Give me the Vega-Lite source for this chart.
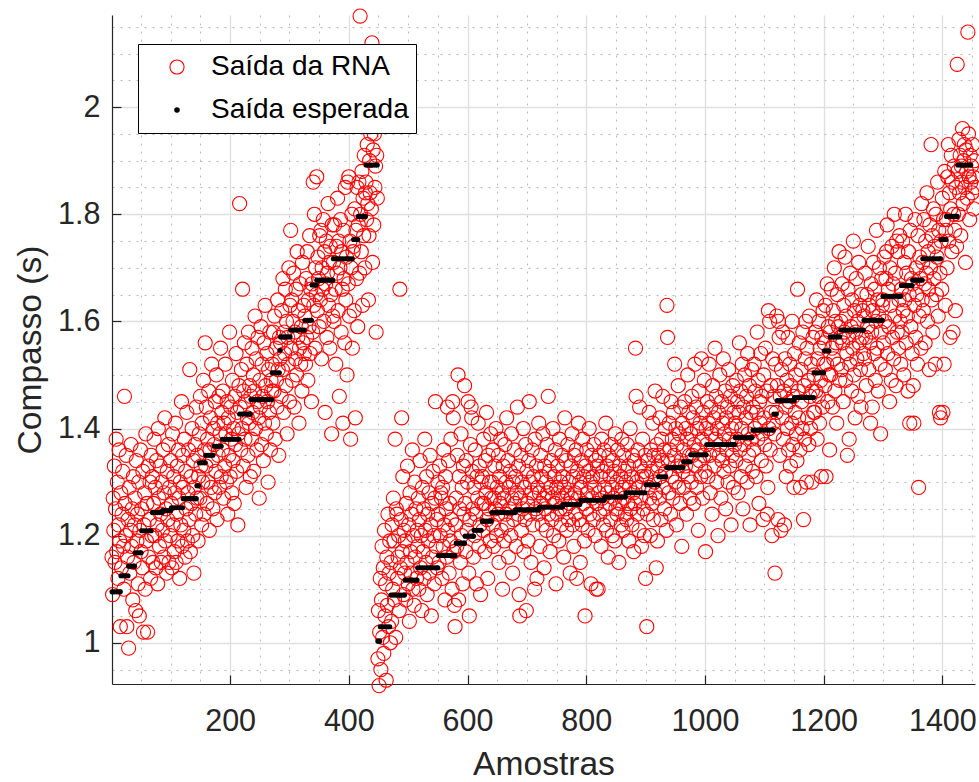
{
  "$schema": "https://vega.github.io/schema/vega-lite/v6.json",
  "width": 863,
  "height": 669,
  "autosize": {"type": "none"},
  "padding": {"left": 112, "top": 15, "right": 4, "bottom": 98},
  "background": "#ffffff",
  "config": {
    "view": {"stroke": null},
    "font": "Liberation Sans",
    "axis": {
      "labelFont": "Liberation Sans",
      "titleFont": "Liberation Sans",
      "labelFontSize": 30.5,
      "titleFontSize": 33.6,
      "titleFontWeight": "normal",
      "labelColor": "#262626",
      "titleColor": "#262626",
      "domainColor": "#262626",
      "domainWidth": 1.2,
      "tickColor": "#262626",
      "tickWidth": 1.2,
      "tickSize": -9,
      "labelOverlap": false,
      "labelFlush": false,
      "labelBound": false,
      "grid": true
    }
  },
  "encoding": {
    "x": {
      "field": "x",
      "type": "quantitative",
      "scale": {"domain": [1, 1455], "nice": false, "zero": false},
      "axis": {
        "title": "Amostras",
        "values": [50,100,150,200,250,300,350,400,450,500,550,600,650,700,750,800,850,900,950,1000,1050,1100,1150,1200,1250,1300,1350,1400,1450],
        "labelExpr": "datum.value % 200 === 0 ? format(datum.value, 'd') : ''",
        "labelPadding": 31.7,
        "titlePadding": 10,
        "gridColor": {"condition": {"test": "datum.value % 200 === 0", "value": "#dfdfdf"}, "value": "#b9b9b9"},
        "gridDash": {"condition": {"test": "datum.value % 200 === 0", "value": []}, "value": [2, 6]},
        "gridWidth": {"condition": {"test": "datum.value % 200 === 0", "value": 1.3}, "value": 1},
        "tickOpacity": {"condition": {"test": "datum.value % 200 === 0", "value": 1}, "value": 0}
      }
    },
    "y": {
      "field": "y",
      "type": "quantitative",
      "scale": {"domain": [0.923, 2.172], "nice": false, "zero": false},
      "axis": {
        "title": "Compasso (s)",
        "values": [0.95,1,1.05,1.1,1.15,1.2,1.25,1.3,1.35,1.4,1.45,1.5,1.55,1.6,1.65,1.7,1.75,1.8,1.85,1.9,1.95,2,2.05,2.1,2.15],
        "labelExpr": "round(datum.value * 100) % 20 === 0 ? format(datum.value, '~g') : ''",
        "labelPadding": 21,
        "titlePadding": 10,
        "gridColor": {"condition": {"test": "round(datum.value * 100) % 20 === 0", "value": "#dfdfdf"}, "value": "#b9b9b9"},
        "gridDash": {"condition": {"test": "round(datum.value * 100) % 20 === 0", "value": []}, "value": [2, 6]},
        "gridWidth": {"condition": {"test": "round(datum.value * 100) % 20 === 0", "value": 1.3}, "value": 1},
        "tickOpacity": {"condition": {"test": "round(datum.value * 100) % 20 === 0", "value": 1}, "value": 0}
      }
    }
  },
  "layer": [
    {
      "data": {"values": [
{"x":1,"y":1.16},{"x":2,"y":1.09},{"x":3,"y":1.27},{"x":4,"y":1.21},{"x":5,"y":1.33},{"x":6,"y":1.15},{"x":7,"y":1.25},{"x":8,"y":1.38},{"x":9,"y":1.17},{"x":10,"y":1.30},{"x":11,"y":1.12},{"x":12,"y":1.22},{"x":13,"y":1.36},{"x":14,"y":1.19},{"x":15,"y":1.03},
{"x":16,"y":1.28},{"x":17,"y":1.14},{"x":18,"y":1.24},{"x":19,"y":1.32},{"x":20,"y":1.18},{"x":21,"y":1.10},{"x":22,"y":1.46},{"x":23,"y":1.26},{"x":24,"y":1.20},{"x":25,"y":1.35},{"x":26,"y":1.03},{"x":27,"y":1.16},{"x":28,"y":1.23},
{"x":29,"y":0.99},{"x":30,"y":1.29},{"x":31,"y":1.13},{"x":32,"y":1.21},{"x":33,"y":1.37},{"x":34,"y":1.18},{"x":35,"y":1.25},{"x":36,"y":1.08},{"x":37,"y":1.31},{"x":38,"y":1.15},{"x":39,"y":1.22},
{"x":40,"y":1.27},{"x":41,"y":1.06},{"x":42,"y":1.34},{"x":43,"y":1.19},{"x":44,"y":1.24},{"x":45,"y":1.11},{"x":46,"y":1.30},{"x":47,"y":1.05},{"x":48,"y":1.21},{"x":49,"y":1.36},{"x":50,"y":1.17},
{"x":51,"y":1.25},{"x":52,"y":1.14},{"x":53,"y":1.32},{"x":54,"y":1.02},{"x":55,"y":1.22},{"x":56,"y":1.28},{"x":57,"y":1.10},{"x":58,"y":1.39},{"x":59,"y":1.19},{"x":60,"y":1.26},{"x":61,"y":1.02},{"x":62,"y":1.33},{"x":63,"y":1.16},{"x":64,"y":1.23},{"x":65,"y":1.30},{"x":66,"y":1.12},{"x":67,"y":1.35},{"x":68,"y":1.20},
{"x":69,"y":1.31},{"x":70,"y":1.15},{"x":71,"y":1.26},{"x":72,"y":1.38},{"x":73,"y":1.20},{"x":74,"y":1.29},{"x":75,"y":1.14},{"x":76,"y":1.34},{"x":77,"y":1.22},{"x":78,"y":1.11},{"x":79,"y":1.40},{"x":80,"y":1.27},{"x":81,"y":1.18},{"x":82,"y":1.33},{"x":83,"y":1.24},{"x":84,"y":1.15},{"x":85,"y":1.30},
{"x":86,"y":1.21},{"x":87,"y":1.36},{"x":88,"y":1.16},{"x":89,"y":1.28},{"x":90,"y":1.42},{"x":91,"y":1.19},{"x":92,"y":1.25},{"x":93,"y":1.13},{"x":94,"y":1.32},{"x":95,"y":1.23},{"x":96,"y":1.37},{"x":97,"y":1.15},{"x":98,"y":1.29},{"x":99,"y":1.20},{"x":100,"y":1.34},
{"x":101,"y":1.26},{"x":102,"y":1.14},{"x":103,"y":1.39},{"x":104,"y":1.22},{"x":105,"y":1.31},{"x":106,"y":1.17},{"x":107,"y":1.28},{"x":108,"y":1.41},{"x":109,"y":1.15},{"x":110,"y":1.24},{"x":111,"y":1.33},{"x":112,"y":1.19},{"x":113,"y":1.36},{"x":114,"y":1.27},{"x":115,"y":1.12},{"x":116,"y":1.30},{"x":117,"y":1.22},{"x":118,"y":1.45},{"x":119,"y":1.18},{"x":120,"y":1.35},
{"x":121,"y":1.29},{"x":122,"y":1.21},{"x":123,"y":1.38},{"x":124,"y":1.16},{"x":125,"y":1.32},{"x":126,"y":1.25},{"x":127,"y":1.43},{"x":128,"y":1.19},{"x":129,"y":1.28},{"x":130,"y":1.36},{"x":131,"y":1.23},{"x":132,"y":1.51},{"x":133,"y":1.17},{"x":134,"y":1.31},{"x":135,"y":1.26},{"x":136,"y":1.40},{"x":137,"y":1.20},{"x":138,"y":1.34},{"x":139,"y":1.13},{"x":140,"y":1.29},{"x":141,"y":1.37},{"x":142,"y":1.24},{"x":143,"y":1.44},
{"x":144,"y":1.27},{"x":145,"y":1.35},{"x":146,"y":1.19},{"x":147,"y":1.31},
{"x":148,"y":1.39},{"x":149,"y":1.27},{"x":150,"y":1.46},{"x":151,"y":1.33},{"x":152,"y":1.22},{"x":153,"y":1.41},{"x":154,"y":1.30},{"x":155,"y":1.49},{"x":156,"y":1.24},{"x":157,"y":1.36},{"x":158,"y":1.56},
{"x":159,"y":1.33},{"x":160,"y":1.44},{"x":161,"y":1.26},{"x":162,"y":1.38},{"x":163,"y":1.30},{"x":164,"y":1.47},{"x":165,"y":1.21},{"x":166,"y":1.36},{"x":167,"y":1.42},{"x":168,"y":1.29},{"x":169,"y":1.52},{"x":170,"y":1.34},{"x":171,"y":1.25},{"x":172,"y":1.40},
{"x":173,"y":1.37},{"x":174,"y":1.28},{"x":175,"y":1.45},{"x":176,"y":1.32},{"x":177,"y":1.50},{"x":178,"y":1.23},{"x":179,"y":1.41},{"x":180,"y":1.35},{"x":181,"y":1.46},{"x":182,"y":1.29},{"x":183,"y":1.39},{"x":184,"y":1.55},{"x":185,"y":1.31},{"x":186,"y":1.43},
{"x":187,"y":1.36},{"x":188,"y":1.47},{"x":189,"y":1.27},{"x":190,"y":1.41},{"x":191,"y":1.33},{"x":192,"y":1.52},{"x":193,"y":1.39},{"x":194,"y":1.30},{"x":195,"y":1.45},{"x":196,"y":1.24},{"x":197,"y":1.42},{"x":198,"y":1.35},{"x":199,"y":1.58},{"x":200,"y":1.31},{"x":201,"y":1.44},{"x":202,"y":1.38},{"x":203,"y":1.28},{"x":204,"y":1.49},{"x":205,"y":1.34},{"x":206,"y":1.40},{"x":207,"y":1.26},{"x":208,"y":1.46},{"x":209,"y":1.37},{"x":210,"y":1.54},{"x":211,"y":1.32},{"x":212,"y":1.43},{"x":213,"y":1.22},{"x":214,"y":1.39},{"x":215,"y":1.48},
{"x":216,"y":1.82},{"x":217,"y":1.44},{"x":218,"y":1.36},{"x":219,"y":1.51},{"x":220,"y":1.40},{"x":221,"y":1.66},{"x":222,"y":1.33},{"x":223,"y":1.47},{"x":224,"y":1.56},{"x":225,"y":1.38},{"x":226,"y":1.45},{"x":227,"y":1.29},{"x":228,"y":1.52},{"x":229,"y":1.42},{"x":230,"y":1.35},{"x":231,"y":1.58},{"x":232,"y":1.41},{"x":233,"y":1.48},{"x":234,"y":1.31},
{"x":235,"y":1.46},{"x":236,"y":1.38},{"x":237,"y":1.55},{"x":238,"y":1.43},{"x":239,"y":1.50},{"x":240,"y":1.32},{"x":241,"y":1.47},{"x":242,"y":1.61},{"x":243,"y":1.40},{"x":244,"y":1.53},{"x":245,"y":1.36},{"x":246,"y":1.45},{"x":247,"y":1.57},{"x":248,"y":1.42},{"x":249,"y":1.27},{"x":250,"y":1.49},{"x":251,"y":1.44},{"x":252,"y":1.59},{"x":253,"y":1.37},{"x":254,"y":1.52},{"x":255,"y":1.46},{"x":256,"y":1.34},{"x":257,"y":1.56},{"x":258,"y":1.41},{"x":259,"y":1.63},{"x":260,"y":1.48},{"x":261,"y":1.39},{"x":262,"y":1.54},{"x":263,"y":1.45},{"x":264,"y":1.30},{"x":265,"y":1.51},{"x":266,"y":1.43},{"x":267,"y":1.58},{"x":268,"y":1.36},{"x":269,"y":1.49},{"x":270,"y":1.47},
{"x":271,"y":1.52},{"x":272,"y":1.41},{"x":273,"y":1.58},{"x":274,"y":1.47},{"x":275,"y":1.61},{"x":276,"y":1.38},{"x":277,"y":1.55},{"x":278,"y":1.49},{"x":279,"y":1.44},{"x":280,"y":1.64},{"x":281,"y":1.51},{"x":282,"y":1.35},{"x":283,"y":1.57},
{"x":284,"y":1.53},
{"x":285,"y":1.56},{"x":286,"y":1.46},{"x":287,"y":1.62},{"x":288,"y":1.51},{"x":289,"y":1.68},{"x":290,"y":1.43},{"x":291,"y":1.58},{"x":292,"y":1.54},{"x":293,"y":1.66},{"x":294,"y":1.48},{"x":295,"y":1.60},{"x":296,"y":1.39},{"x":297,"y":1.57},{"x":298,"y":1.52},{"x":299,"y":1.70},{"x":300,"y":1.45},{"x":301,"y":1.63},
{"x":302,"y":1.77},{"x":303,"y":1.55},{"x":304,"y":1.64},{"x":305,"y":1.49},{"x":306,"y":1.60},{"x":307,"y":1.69},{"x":308,"y":1.44},{"x":309,"y":1.58},{"x":310,"y":1.53},{"x":311,"y":1.66},{"x":312,"y":1.50},{"x":313,"y":1.73},{"x":314,"y":1.57},{"x":315,"y":1.62},{"x":316,"y":1.41},{"x":317,"y":1.55},{"x":318,"y":1.67},{"x":319,"y":1.52},{"x":320,"y":1.59},{"x":321,"y":1.47},{"x":322,"y":1.71},{"x":323,"y":1.56},{"x":324,"y":1.63},{"x":325,"y":1.54},
{"x":326,"y":1.61},{"x":327,"y":1.52},{"x":328,"y":1.68},{"x":329,"y":1.57},{"x":330,"y":1.73},{"x":331,"y":1.49},{"x":332,"y":1.64},{"x":333,"y":1.59},{"x":334,"y":1.76},{"x":335,"y":1.54},{"x":336,"y":1.66},{"x":337,"y":1.45},
{"x":338,"y":1.67},{"x":339,"y":1.58},{"x":340,"y":1.86},{"x":341,"y":1.63},{"x":342,"y":1.80},{"x":343,"y":1.55},{"x":344,"y":1.70},{"x":345,"y":1.65},
{"x":346,"y":1.87},{"x":347,"y":1.62},{"x":348,"y":1.72},{"x":349,"y":1.68},{"x":350,"y":1.59},{"x":351,"y":1.76},{"x":352,"y":1.64},{"x":353,"y":1.77},{"x":354,"y":1.53},{"x":355,"y":1.70},{"x":356,"y":1.66},{"x":357,"y":1.79},{"x":358,"y":1.60},{"x":359,"y":1.73},{"x":360,"y":1.43},{"x":361,"y":1.67},{"x":362,"y":1.75},{"x":363,"y":1.57},{"x":364,"y":1.69},{"x":365,"y":1.82},{"x":366,"y":1.63},{"x":367,"y":1.71},{"x":368,"y":1.55},{"x":369,"y":1.74},{"x":370,"y":1.65},{"x":371,"y":1.39},{"x":372,"y":1.78},{"x":373,"y":1.61},
{"x":374,"y":1.71},{"x":375,"y":1.60},{"x":376,"y":1.78},{"x":377,"y":1.66},{"x":378,"y":1.52},{"x":379,"y":1.74},{"x":380,"y":1.69},{"x":381,"y":1.83},{"x":382,"y":1.62},{"x":383,"y":1.75},{"x":384,"y":1.46},{"x":385,"y":1.70},{"x":386,"y":1.79},{"x":387,"y":1.58},{"x":388,"y":1.73},{"x":389,"y":1.66},{"x":390,"y":1.41},{"x":391,"y":1.77},{"x":392,"y":1.68},{"x":393,"y":1.56},{"x":394,"y":1.85},{"x":395,"y":1.64},{"x":396,"y":1.72},{"x":397,"y":1.50},{"x":398,"y":1.86},{"x":399,"y":1.67},{"x":400,"y":1.87},{"x":401,"y":1.61},{"x":402,"y":1.75},{"x":403,"y":1.38},{"x":404,"y":1.70},{"x":405,"y":1.80},{"x":406,"y":1.55},{"x":407,"y":1.73},
{"x":408,"y":1.74},{"x":409,"y":1.62},{"x":410,"y":1.81},{"x":411,"y":1.42},{"x":412,"y":1.77},{"x":413,"y":1.68},{"x":414,"y":1.85},{"x":415,"y":1.59},
{"x":416,"y":1.78},{"x":417,"y":1.86},{"x":418,"y":1.69},{"x":419,"y":2.17},{"x":420,"y":1.80},{"x":421,"y":1.73},{"x":422,"y":1.88},{"x":423,"y":1.63},{"x":424,"y":1.83},{"x":425,"y":1.76},{"x":426,"y":1.91},{"x":427,"y":1.70},{"x":428,"y":1.84},
{"x":429,"y":1.86},{"x":430,"y":1.79},{"x":431,"y":1.93},{"x":432,"y":1.82},{"x":433,"y":1.64},{"x":434,"y":1.76},{"x":435,"y":1.90},{"x":436,"y":1.84},{"x":437,"y":1.95},{"x":438,"y":1.81},{"x":439,"y":2.12},{"x":440,"y":1.71},{"x":441,"y":1.92},{"x":442,"y":1.78},{"x":443,"y":1.95},{"x":444,"y":1.85},{"x":445,"y":1.89},{"x":446,"y":1.58},{"x":447,"y":1.91},{"x":448,"y":1.83},
{"x":449,"y":0.97},{"x":450,"y":1.06},{"x":451,"y":0.92},{"x":452,"y":1.02},
{"x":453,"y":1.12},{"x":454,"y":0.95},{"x":455,"y":1.08},{"x":456,"y":1.18},{"x":457,"y":1.01},{"x":458,"y":1.14},{"x":459,"y":0.98},{"x":460,"y":1.21},{"x":461,"y":1.05},{"x":462,"y":1.11},{"x":463,"y":0.93},{"x":464,"y":1.16},{"x":465,"y":1.07},{"x":466,"y":1.24},{"x":467,"y":1.03},{"x":468,"y":1.13},{"x":469,"y":1.19},{"x":470,"y":1.00},
{"x":471,"y":1.15},{"x":472,"y":1.04},{"x":473,"y":1.22},{"x":474,"y":1.10},{"x":475,"y":1.27},{"x":476,"y":1.19},{"x":477,"y":1.08},{"x":478,"y":1.38},{"x":479,"y":1.01},{"x":480,"y":1.25},{"x":481,"y":1.24},{"x":482,"y":1.12},{"x":483,"y":1.16},{"x":484,"y":1.20},{"x":485,"y":1.06},{"x":486,"y":1.66},{"x":487,"y":1.14},{"x":488,"y":1.23},{"x":489,"y":1.42},{"x":490,"y":1.17},{"x":491,"y":1.31},{"x":492,"y":1.09},{"x":493,"y":1.21},{"x":494,"y":1.13},
{"x":495,"y":1.19},{"x":496,"y":1.08},{"x":497,"y":1.26},{"x":498,"y":1.15},{"x":499,"y":1.33},{"x":500,"y":1.11},{"x":501,"y":1.22},{"x":502,"y":1.04},{"x":503,"y":1.28},{"x":504,"y":1.17},{"x":505,"y":1.13},{"x":506,"y":1.24},{"x":507,"y":1.36},{"x":508,"y":1.10},{"x":509,"y":1.20},{"x":510,"y":1.07},{"x":511,"y":1.30},{"x":512,"y":1.16},{"x":513,"y":1.25},{"x":514,"y":1.12},{"x":515,"y":1.21},
{"x":516,"y":1.18},{"x":517,"y":1.27},{"x":518,"y":1.10},{"x":519,"y":1.23},{"x":520,"y":1.34},{"x":521,"y":1.14},{"x":522,"y":1.20},{"x":523,"y":1.06},{"x":524,"y":1.29},{"x":525,"y":1.17},{"x":526,"y":1.25},{"x":527,"y":1.12},{"x":528,"y":1.38},{"x":529,"y":1.21},{"x":530,"y":1.15},{"x":531,"y":1.31},{"x":532,"y":1.09},{"x":533,"y":1.24},{"x":534,"y":1.19},{"x":535,"y":1.28},{"x":536,"y":1.13},{"x":537,"y":1.35},{"x":538,"y":1.22},{"x":539,"y":1.05},{"x":540,"y":1.26},{"x":541,"y":1.16},{"x":542,"y":1.32},{"x":543,"y":1.20},{"x":544,"y":1.11},{"x":545,"y":1.27},{"x":546,"y":1.45},{"x":547,"y":1.18},{"x":548,"y":1.23},{"x":549,"y":1.14},{"x":550,"y":1.30},
{"x":551,"y":1.24},{"x":552,"y":1.15},{"x":553,"y":1.33},{"x":554,"y":1.20},{"x":555,"y":1.28},{"x":556,"y":1.27},{"x":557,"y":1.12},{"x":558,"y":1.29},{"x":559,"y":1.18},{"x":560,"y":1.36},{"x":561,"y":1.22},{"x":562,"y":1.08},{"x":563,"y":1.31},{"x":564,"y":1.25},{"x":565,"y":1.16},{"x":566,"y":1.44},{"x":567,"y":1.21},{"x":568,"y":1.34},{"x":569,"y":1.13},{"x":570,"y":1.26},{"x":571,"y":1.19},{"x":572,"y":1.38},{"x":573,"y":1.23},{"x":574,"y":1.10},{"x":575,"y":1.45},{"x":576,"y":1.42},{"x":577,"y":1.17},{"x":578,"y":1.07},{"x":579,"y":1.03},{"x":580,"y":1.22},
{"x":581,"y":1.27},{"x":582,"y":1.18},{"x":583,"y":1.35},{"x":584,"y":1.50},{"x":585,"y":1.08},{"x":586,"y":1.31},{"x":587,"y":1.25},{"x":588,"y":1.15},{"x":589,"y":1.39},{"x":590,"y":1.20},{"x":591,"y":1.29},{"x":592,"y":1.11},{"x":593,"y":1.33},{"x":594,"y":1.24},{"x":595,"y":1.48},
{"x":596,"y":1.26},{"x":597,"y":1.17},{"x":598,"y":1.34},{"x":599,"y":1.21},{"x":600,"y":1.30},{"x":601,"y":1.45},{"x":602,"y":1.13},{"x":603,"y":1.05},{"x":604,"y":1.23},{"x":605,"y":1.37},{"x":606,"y":1.44},{"x":607,"y":1.42},{"x":608,"y":1.32},{"x":609,"y":1.25},{"x":610,"y":1.16},
{"x":611,"y":1.29},{"x":612,"y":1.20},{"x":613,"y":1.36},{"x":614,"y":1.24},{"x":615,"y":1.11},{"x":616,"y":1.31},{"x":617,"y":1.27},{"x":618,"y":1.41},{"x":619,"y":1.18},{"x":620,"y":1.33},{"x":621,"y":1.22},{"x":622,"y":1.09},{"x":623,"y":1.30},{"x":624,"y":1.26},
{"x":625,"y":1.31},{"x":626,"y":1.21},{"x":627,"y":1.38},{"x":628,"y":1.26},{"x":629,"y":1.17},{"x":630,"y":1.34},{"x":631,"y":1.28},{"x":632,"y":1.43},{"x":633,"y":1.23},{"x":634,"y":1.12},{"x":635,"y":1.35},{"x":636,"y":1.25},{"x":637,"y":1.30},{"x":638,"y":1.19},{"x":639,"y":1.39},{"x":640,"y":1.27},
{"x":641,"y":1.30},{"x":642,"y":1.22},{"x":643,"y":1.36},{"x":644,"y":1.18},{"x":645,"y":1.27},{"x":646,"y":1.33},{"x":647,"y":1.25},{"x":648,"y":1.40},{"x":649,"y":1.20},{"x":650,"y":1.29},
{"x":651,"y":1.24},{"x":652,"y":1.35},{"x":653,"y":1.15},{"x":654,"y":1.31},{"x":655,"y":1.26},{"x":656,"y":1.38},{"x":657,"y":1.21},{"x":658,"y":1.28},{"x":659,"y":1.10},{"x":660,"y":1.33},
{"x":661,"y":1.27},{"x":662,"y":1.19},{"x":663,"y":1.37},{"x":664,"y":1.24},{"x":665,"y":1.30},{"x":666,"y":1.42},{"x":667,"y":1.22},{"x":668,"y":1.34},{"x":669,"y":1.16},{"x":670,"y":1.29},
{"x":671,"y":1.25},{"x":672,"y":1.32},{"x":673,"y":1.20},{"x":674,"y":1.39},{"x":675,"y":1.27},{"x":676,"y":1.13},{"x":677,"y":1.30},{"x":678,"y":1.23},{"x":679,"y":1.36},{"x":680,"y":1.26},
{"x":681,"y":1.31},{"x":682,"y":1.18},{"x":683,"y":1.28},{"x":684,"y":1.44},{"x":685,"y":1.24},{"x":686,"y":1.33},{"x":687,"y":1.09},{"x":688,"y":1.05},{"x":689,"y":1.27},{"x":690,"y":1.35},
{"x":691,"y":1.21},{"x":692,"y":1.30},{"x":693,"y":1.25},{"x":694,"y":1.40},{"x":695,"y":1.17},{"x":696,"y":1.29},{"x":697,"y":1.23},{"x":698,"y":1.37},{"x":699,"y":1.06},{"x":700,"y":1.32},
{"x":701,"y":1.26},{"x":702,"y":1.19},{"x":703,"y":1.34},{"x":704,"y":1.45},{"x":705,"y":1.24},{"x":706,"y":1.30},{"x":707,"y":1.15},{"x":708,"y":1.28},{"x":709,"y":1.36},{"x":710,"y":1.22},
{"x":711,"y":1.31},{"x":712,"y":1.27},{"x":713,"y":1.10},{"x":714,"y":1.38},{"x":715,"y":1.25},{"x":716,"y":1.33},{"x":717,"y":1.12},{"x":718,"y":1.29},{"x":719,"y":1.24},{"x":720,"y":1.41},
{"x":721,"y":1.28},{"x":722,"y":1.18},{"x":723,"y":1.35},{"x":724,"y":1.26},{"x":725,"y":1.31},{"x":726,"y":1.22},{"x":727,"y":1.39},{"x":728,"y":1.27},{"x":729,"y":1.14},{"x":730,"y":1.33},
{"x":731,"y":1.25},{"x":732,"y":1.30},{"x":733,"y":1.21},{"x":734,"y":1.37},{"x":735,"y":1.28},{"x":736,"y":1.46},{"x":737,"y":1.24},{"x":738,"y":1.32},{"x":739,"y":1.17},{"x":740,"y":1.29},
{"x":741,"y":1.34},{"x":742,"y":1.23},{"x":743,"y":1.27},{"x":744,"y":1.40},{"x":745,"y":1.20},{"x":746,"y":1.31},{"x":747,"y":1.26},{"x":748,"y":1.36},{"x":749,"y":1.11},{"x":750,"y":1.29},
{"x":751,"y":1.24},{"x":752,"y":1.33},{"x":753,"y":1.28},{"x":754,"y":1.19},{"x":755,"y":1.38},{"x":756,"y":1.25},{"x":757,"y":1.30},{"x":758,"y":1.22},{"x":759,"y":1.35},{"x":760,"y":1.27},
{"x":761,"y":1.31},{"x":762,"y":1.16},{"x":763,"y":1.29},{"x":764,"y":1.42},{"x":765,"y":1.25},{"x":766,"y":1.34},{"x":767,"y":1.21},{"x":768,"y":1.28},{"x":769,"y":1.37},{"x":770,"y":1.23},
{"x":771,"y":1.30},{"x":772,"y":1.26},{"x":773,"y":1.13},{"x":774,"y":1.33},{"x":775,"y":1.27},{"x":776,"y":1.39},{"x":777,"y":1.22},{"x":778,"y":1.31},{"x":779,"y":1.18},{"x":780,"y":1.35},
{"x":781,"y":1.28},{"x":782,"y":1.24},{"x":783,"y":1.36},{"x":784,"y":1.12},{"x":785,"y":1.32},{"x":786,"y":1.27},{"x":787,"y":1.41},{"x":788,"y":1.23},{"x":789,"y":1.30},{"x":790,"y":1.15},
{"x":791,"y":1.29},{"x":792,"y":1.34},{"x":793,"y":1.22},{"x":794,"y":1.38},{"x":795,"y":1.26},{"x":796,"y":1.31},{"x":797,"y":1.19},{"x":798,"y":1.05},{"x":799,"y":1.33},{"x":800,"y":1.25},
{"x":801,"y":1.36},{"x":802,"y":1.28},{"x":803,"y":1.21},{"x":804,"y":1.32},{"x":805,"y":1.40},{"x":806,"y":1.24},{"x":807,"y":1.30},{"x":808,"y":1.11},{"x":809,"y":1.35},{"x":810,"y":1.27},
{"x":811,"y":1.31},{"x":812,"y":1.23},{"x":813,"y":1.37},{"x":814,"y":1.29},{"x":815,"y":1.20},{"x":816,"y":1.34},{"x":817,"y":1.10},{"x":818,"y":1.26},{"x":819,"y":1.33},{"x":820,"y":1.10},
{"x":821,"y":1.28},{"x":822,"y":1.35},{"x":823,"y":1.24},{"x":824,"y":1.31},{"x":825,"y":1.18},{"x":826,"y":1.38},{"x":827,"y":1.27},{"x":828,"y":1.32},{"x":829,"y":1.22},{"x":830,"y":1.36},
{"x":831,"y":1.29},{"x":832,"y":1.25},{"x":833,"y":1.41},{"x":834,"y":1.21},{"x":835,"y":1.33},{"x":836,"y":1.28},{"x":837,"y":1.16},{"x":838,"y":1.35},{"x":839,"y":1.26},{"x":840,"y":1.31},
{"x":841,"y":1.23},{"x":842,"y":1.37},{"x":843,"y":1.29},{"x":844,"y":1.20},{"x":845,"y":1.34},{"x":846,"y":1.27},{"x":847,"y":1.32},{"x":848,"y":1.19},{"x":849,"y":1.39},{"x":850,"y":1.25},
{"x":851,"y":1.30},{"x":852,"y":1.24},{"x":853,"y":1.36},{"x":854,"y":1.28},{"x":855,"y":1.15},{"x":856,"y":1.33},{"x":857,"y":1.26},{"x":858,"y":1.31},{"x":859,"y":1.22},{"x":860,"y":1.38},
{"x":861,"y":1.29},{"x":862,"y":1.21},{"x":863,"y":1.35},{"x":864,"y":1.27},{"x":865,"y":1.32},{"x":866,"y":1.24},
{"x":867,"y":1.30},{"x":868,"y":1.23},{"x":869,"y":1.37},{"x":870,"y":1.26},{"x":871,"y":1.33},{"x":872,"y":1.19},{"x":873,"y":1.29},{"x":874,"y":1.40},{"x":875,"y":1.25},{"x":876,"y":1.31},
{"x":877,"y":1.22},{"x":878,"y":1.35},{"x":879,"y":1.28},{"x":880,"y":1.17},{"x":881,"y":1.34},{"x":882,"y":1.26},{"x":883,"y":1.55},{"x":884,"y":1.46},{"x":885,"y":1.30},{"x":886,"y":1.24},
{"x":887,"y":1.36},{"x":888,"y":1.29},{"x":889,"y":1.21},{"x":890,"y":1.44},{"x":891,"y":1.33},{"x":892,"y":1.27},{"x":893,"y":1.18},{"x":894,"y":1.31},{"x":895,"y":1.38},{"x":896,"y":1.25},{"x":897,"y":1.32},{"x":898,"y":1.20},{"x":899,"y":1.35},{"x":900,"y":1.12},
{"x":901,"y":1.31},{"x":902,"y":1.03},{"x":903,"y":1.24},{"x":904,"y":1.34},{"x":905,"y":1.29},{"x":906,"y":1.43},{"x":907,"y":1.27},{"x":908,"y":1.20},{"x":909,"y":1.36},{"x":910,"y":1.32},{"x":911,"y":1.26},{"x":912,"y":1.41},{"x":913,"y":1.23},{"x":914,"y":1.35},{"x":915,"y":1.30},{"x":916,"y":1.47},{"x":917,"y":1.28},{"x":918,"y":1.14},{"x":919,"y":1.37},{"x":920,"y":1.19},{"x":921,"y":1.33},
{"x":922,"y":1.35},{"x":923,"y":1.27},{"x":924,"y":1.42},{"x":925,"y":1.31},{"x":926,"y":1.23},{"x":927,"y":1.38},{"x":928,"y":1.34},{"x":929,"y":1.46},{"x":930,"y":1.29},{"x":931,"y":1.36},{"x":932,"y":1.25},{"x":933,"y":1.40},{"x":934,"y":1.32},{"x":935,"y":1.21},
{"x":936,"y":1.63},{"x":937,"y":1.57},{"x":938,"y":1.34},{"x":939,"y":1.28},{"x":940,"y":1.41},{"x":941,"y":1.36},{"x":942,"y":1.24},{"x":943,"y":1.45},{"x":944,"y":1.31},{"x":945,"y":1.38},{"x":946,"y":1.27},{"x":947,"y":1.43},{"x":948,"y":1.35},{"x":949,"y":1.52},{"x":950,"y":1.30},{"x":951,"y":1.40},{"x":952,"y":1.22},{"x":953,"y":1.37},{"x":954,"y":1.33},{"x":955,"y":1.48},{"x":956,"y":1.29},{"x":957,"y":1.39},{"x":958,"y":1.26},{"x":959,"y":1.44},{"x":960,"y":1.34},{"x":961,"y":1.18},{"x":962,"y":1.41},{"x":963,"y":1.32},
{"x":964,"y":1.36},{"x":965,"y":1.29},{"x":966,"y":1.45},{"x":967,"y":1.33},{"x":968,"y":1.40},{"x":969,"y":1.24},{"x":970,"y":1.38},{"x":971,"y":1.50},{"x":972,"y":1.31},{"x":973,"y":1.43},{"x":974,"y":1.35},{"x":975,"y":1.27},
{"x":976,"y":1.39},{"x":977,"y":1.30},{"x":978,"y":1.46},{"x":979,"y":1.35},{"x":980,"y":1.42},{"x":981,"y":1.26},{"x":982,"y":1.37},{"x":983,"y":1.52},{"x":984,"y":1.33},{"x":985,"y":1.44},{"x":986,"y":1.29},{"x":987,"y":1.40},{"x":988,"y":1.36},{"x":989,"y":1.21},{"x":990,"y":1.47},{"x":991,"y":1.34},{"x":992,"y":1.41},{"x":993,"y":1.31},{"x":994,"y":1.53},{"x":995,"y":1.38},{"x":996,"y":1.27},{"x":997,"y":1.43},{"x":998,"y":1.35},{"x":999,"y":1.49},{"x":1000,"y":1.32},{"x":1001,"y":1.17},{"x":1002,"y":1.40},
{"x":1003,"y":1.37},{"x":1004,"y":1.45},{"x":1005,"y":1.31},{"x":1006,"y":1.41},{"x":1007,"y":1.52},{"x":1008,"y":1.35},{"x":1009,"y":1.28},{"x":1010,"y":1.44},{"x":1011,"y":1.39},{"x":1012,"y":1.24},{"x":1013,"y":1.48},{"x":1014,"y":1.36},{"x":1015,"y":1.42},{"x":1016,"y":1.33},{"x":1017,"y":1.55},{"x":1018,"y":1.38},{"x":1019,"y":1.46},{"x":1020,"y":1.30},{"x":1021,"y":1.40},{"x":1022,"y":1.20},{"x":1023,"y":1.43},{"x":1024,"y":1.35},{"x":1025,"y":1.50},{"x":1026,"y":1.37},{"x":1027,"y":1.27},{"x":1028,"y":1.45},{"x":1029,"y":1.34},{"x":1030,"y":1.41},{"x":1031,"y":1.53},{"x":1032,"y":1.32},{"x":1033,"y":1.39},{"x":1034,"y":1.47},{"x":1035,"y":1.25},{"x":1036,"y":1.42},{"x":1037,"y":1.36},{"x":1038,"y":1.44},{"x":1039,"y":1.30},{"x":1040,"y":1.51},{"x":1041,"y":1.38},{"x":1042,"y":1.33},{"x":1043,"y":1.46},{"x":1044,"y":1.22},{"x":1045,"y":1.40},{"x":1046,"y":1.35},{"x":1047,"y":1.48},{"x":1048,"y":1.29},{"x":1049,"y":1.43},{"x":1050,"y":1.37},
{"x":1051,"y":1.41},{"x":1052,"y":1.34},{"x":1053,"y":1.49},{"x":1054,"y":1.38},{"x":1055,"y":1.45},{"x":1056,"y":1.28},{"x":1057,"y":1.43},{"x":1058,"y":1.56},{"x":1059,"y":1.36},{"x":1060,"y":1.47},{"x":1061,"y":1.31},{"x":1062,"y":1.40},{"x":1063,"y":1.52},{"x":1064,"y":1.25},{"x":1065,"y":1.44},{"x":1066,"y":1.37},{"x":1067,"y":1.50},{"x":1068,"y":1.33},{"x":1069,"y":1.42},{"x":1070,"y":1.46},{"x":1071,"y":1.30},{"x":1072,"y":1.54},{"x":1073,"y":1.39},{"x":1074,"y":1.35},{"x":1075,"y":1.48},{"x":1076,"y":1.22},{"x":1077,"y":1.43},{"x":1078,"y":1.38},{"x":1079,"y":1.51},{"x":1080,"y":1.32},
{"x":1081,"y":1.44},{"x":1082,"y":1.36},{"x":1083,"y":1.52},{"x":1084,"y":1.40},{"x":1085,"y":1.47},{"x":1086,"y":1.31},{"x":1087,"y":1.43},{"x":1088,"y":1.58},{"x":1089,"y":1.38},{"x":1090,"y":1.49},{"x":1091,"y":1.26},{"x":1092,"y":1.45},{"x":1093,"y":1.41},{"x":1094,"y":1.54},{"x":1095,"y":1.34},{"x":1096,"y":1.46},{"x":1097,"y":1.39},{"x":1098,"y":1.23},{"x":1099,"y":1.50},{"x":1100,"y":1.42},{"x":1101,"y":1.37},{"x":1102,"y":1.55},{"x":1103,"y":1.33},{"x":1104,"y":1.47},{"x":1105,"y":1.24},{"x":1106,"y":1.29},{"x":1107,"y":1.62},{"x":1108,"y":1.40},{"x":1109,"y":1.60},{"x":1110,"y":1.36},{"x":1111,"y":1.48},{"x":1112,"y":1.43},{"x":1113,"y":1.20},{"x":1114,"y":1.53},{"x":1115,"y":1.41},
{"x":1116,"y":1.46},{"x":1117,"y":1.39},{"x":1118,"y":1.13},{"x":1119,"y":1.52},{"x":1120,"y":1.43},{"x":1121,"y":1.61},
{"x":1122,"y":1.48},{"x":1123,"y":1.23},{"x":1124,"y":1.60},{"x":1125,"y":1.57},{"x":1126,"y":1.35},{"x":1127,"y":1.46},{"x":1128,"y":1.21},{"x":1129,"y":1.51},{"x":1130,"y":1.42},{"x":1131,"y":1.58},
{"x":1132,"y":1.38},{"x":1133,"y":1.47},{"x":1134,"y":1.22},{"x":1135,"y":1.53},{"x":1136,"y":1.44},{"x":1137,"y":1.31},{"x":1138,"y":1.49},{"x":1139,"y":1.40},{"x":1140,"y":1.57},{"x":1141,"y":1.36},
{"x":1142,"y":1.45},{"x":1143,"y":1.52},{"x":1144,"y":1.33},{"x":1145,"y":1.48},{"x":1146,"y":1.41},{"x":1147,"y":1.60},{"x":1148,"y":1.37},{"x":1149,"y":1.46},{"x":1150,"y":1.29},{"x":1151,"y":1.54},
{"x":1152,"y":1.43},{"x":1153,"y":1.50},{"x":1154,"y":1.39},{"x":1155,"y":1.34},{"x":1156,"y":1.66},{"x":1157,"y":1.47},{"x":1158,"y":1.42},{"x":1159,"y":1.56},{"x":1160,"y":1.36},{"x":1161,"y":1.29},
{"x":1162,"y":1.51},{"x":1163,"y":1.45},{"x":1164,"y":1.40},{"x":1165,"y":1.58},{"x":1166,"y":1.23},{"x":1167,"y":1.48},{"x":1168,"y":1.38},{"x":1169,"y":1.53},{"x":1170,"y":1.60},{"x":1171,"y":1.30},
{"x":1172,"y":1.55},{"x":1173,"y":1.42},{"x":1174,"y":1.49},{"x":1175,"y":1.37},{"x":1176,"y":1.61},{"x":1177,"y":1.46},{"x":1178,"y":1.40},{"x":1179,"y":1.52},{"x":1180,"y":1.30},{"x":1181,"y":1.47},{"x":1182,"y":1.57},{"x":1183,"y":1.43},
{"x":1184,"y":1.50},{"x":1185,"y":1.43},{"x":1186,"y":1.58},{"x":1187,"y":1.47},{"x":1188,"y":1.64},{"x":1189,"y":1.38},{"x":1190,"y":1.53},{"x":1191,"y":1.46},{"x":1192,"y":1.60},{"x":1193,"y":1.41},{"x":1194,"y":1.55},{"x":1195,"y":1.49},{"x":1196,"y":1.31},{"x":1197,"y":1.57},{"x":1198,"y":1.44},{"x":1199,"y":1.62},{"x":1200,"y":1.52},
{"x":1201,"y":1.56},{"x":1202,"y":1.48},{"x":1203,"y":1.63},{"x":1204,"y":1.31},{"x":1205,"y":1.52},{"x":1206,"y":1.67},{"x":1207,"y":1.45},{"x":1208,"y":1.59},{"x":1209,"y":1.50},{"x":1210,"y":1.36},
{"x":1211,"y":1.58},{"x":1212,"y":1.50},{"x":1213,"y":1.66},{"x":1214,"y":1.55},{"x":1215,"y":1.44},{"x":1216,"y":1.62},{"x":1217,"y":1.53},{"x":1218,"y":1.70},{"x":1219,"y":1.47},{"x":1220,"y":1.60},{"x":1221,"y":1.56},{"x":1222,"y":1.41},{"x":1223,"y":1.65},{"x":1224,"y":1.52},{"x":1225,"y":1.59},{"x":1226,"y":1.73},{"x":1227,"y":1.49},{"x":1228,"y":1.57},
{"x":1229,"y":1.60},{"x":1230,"y":1.51},{"x":1231,"y":1.67},{"x":1232,"y":1.56},{"x":1233,"y":1.45},{"x":1234,"y":1.63},{"x":1235,"y":1.58},{"x":1236,"y":1.72},{"x":1237,"y":1.49},{"x":1238,"y":1.61},{"x":1239,"y":1.54},{"x":1240,"y":1.35},{"x":1241,"y":1.66},{"x":1242,"y":1.57},{"x":1243,"y":1.38},{"x":1244,"y":1.52},{"x":1245,"y":1.69},{"x":1246,"y":1.59},{"x":1247,"y":1.47},{"x":1248,"y":1.64},{"x":1249,"y":1.55},{"x":1250,"y":1.75},{"x":1251,"y":1.50},{"x":1252,"y":1.62},{"x":1253,"y":1.42},{"x":1254,"y":1.58},{"x":1255,"y":1.68},{"x":1256,"y":1.53},{"x":1257,"y":1.60},{"x":1258,"y":1.46},{"x":1259,"y":1.71},{"x":1260,"y":1.56},{"x":1261,"y":1.63},{"x":1262,"y":1.51},{"x":1263,"y":1.44},{"x":1264,"y":1.65},{"x":1265,"y":1.57},{"x":1266,"y":1.62},{"x":1267,"y":1.54},
{"x":1268,"y":1.61},{"x":1269,"y":1.53},{"x":1270,"y":1.69},{"x":1271,"y":1.57},{"x":1272,"y":1.48},{"x":1273,"y":1.65},{"x":1274,"y":1.59},{"x":1275,"y":1.74},{"x":1276,"y":1.51},{"x":1277,"y":1.63},{"x":1278,"y":1.56},{"x":1279,"y":1.41},{"x":1280,"y":1.67},{"x":1281,"y":1.58},{"x":1282,"y":1.44},{"x":1283,"y":1.62},{"x":1284,"y":1.71},{"x":1285,"y":1.54},{"x":1286,"y":1.66},{"x":1287,"y":1.49},{"x":1288,"y":1.60},{"x":1289,"y":1.77},{"x":1290,"y":1.55},{"x":1291,"y":1.64},{"x":1292,"y":1.47},{"x":1293,"y":1.61},{"x":1294,"y":1.70},{"x":1295,"y":1.52},{"x":1296,"y":1.39},{"x":1297,"y":1.58},{"x":1298,"y":1.68},{"x":1299,"y":1.63},
{"x":1300,"y":1.64},{"x":1301,"y":1.56},{"x":1302,"y":1.72},{"x":1303,"y":1.60},{"x":1304,"y":1.51},{"x":1305,"y":1.68},{"x":1306,"y":1.73},{"x":1307,"y":1.78},{"x":1308,"y":1.54},{"x":1309,"y":1.66},{"x":1310,"y":1.59},{"x":1311,"y":1.45},{"x":1312,"y":1.70},{"x":1313,"y":1.63},{"x":1314,"y":1.49},{"x":1315,"y":1.74},{"x":1316,"y":1.57},{"x":1317,"y":1.67},{"x":1318,"y":1.53},{"x":1319,"y":1.80},{"x":1320,"y":1.61},{"x":1321,"y":1.69},{"x":1322,"y":1.48},{"x":1323,"y":1.75},{"x":1324,"y":1.58},{"x":1325,"y":1.73},{"x":1326,"y":1.55},{"x":1327,"y":1.64},{"x":1328,"y":1.76},{"x":1329,"y":1.60},{"x":1330,"y":1.52},
{"x":1331,"y":1.66},{"x":1332,"y":1.58},{"x":1333,"y":1.75},{"x":1334,"y":1.62},{"x":1335,"y":1.50},{"x":1336,"y":1.71},{"x":1337,"y":1.64},{"x":1338,"y":1.80},{"x":1339,"y":1.56},{"x":1340,"y":1.69},{"x":1341,"y":1.61},{"x":1342,"y":1.47},{"x":1343,"y":1.73},{"x":1344,"y":1.65},{"x":1345,"y":1.41},{"x":1346,"y":1.77},{"x":1347,"y":1.59},{"x":1348,"y":1.68},{"x":1349,"y":1.54},
{"x":1350,"y":1.67},{"x":1351,"y":1.48},{"x":1352,"y":1.41},{"x":1353,"y":1.63},{"x":1354,"y":1.79},{"x":1355,"y":1.57},{"x":1356,"y":1.70},{"x":1357,"y":1.65},{"x":1358,"y":1.52},{"x":1359,"y":1.76},{"x":1360,"y":1.29},{"x":1361,"y":1.61},{"x":1362,"y":1.72},{"x":1363,"y":1.68},{"x":1364,"y":1.55},{"x":1365,"y":1.82},{"x":1366,"y":1.64},
{"x":1367,"y":1.71},{"x":1368,"y":1.62},{"x":1369,"y":1.79},{"x":1370,"y":1.67},{"x":1371,"y":1.56},{"x":1372,"y":1.75},{"x":1373,"y":1.69},{"x":1374,"y":1.84},{"x":1375,"y":1.60},{"x":1376,"y":1.73},{"x":1377,"y":1.66},{"x":1378,"y":1.51},{"x":1379,"y":1.78},{"x":1380,"y":1.70},{"x":1381,"y":1.93},{"x":1382,"y":1.64},{"x":1383,"y":1.76},{"x":1384,"y":1.58},{"x":1385,"y":1.81},{"x":1386,"y":1.68},{"x":1387,"y":1.74},{"x":1388,"y":1.52},{"x":1389,"y":1.80},{"x":1390,"y":1.65},{"x":1391,"y":1.72},{"x":1392,"y":1.86},{"x":1393,"y":1.61},{"x":1394,"y":1.77},{"x":1395,"y":1.43},{"x":1396,"y":1.69},{"x":1397,"y":1.42},
{"x":1398,"y":1.75},{"x":1399,"y":1.66},{"x":1400,"y":1.83},{"x":1401,"y":1.43},{"x":1402,"y":1.79},{"x":1403,"y":1.52},{"x":1404,"y":1.88},{"x":1405,"y":1.63},{"x":1406,"y":1.77},
{"x":1407,"y":1.79},{"x":1408,"y":1.70},{"x":1409,"y":1.87},{"x":1410,"y":1.93},{"x":1411,"y":1.75},{"x":1412,"y":1.84},{"x":1413,"y":1.57},{"x":1414,"y":1.81},{"x":1415,"y":1.91},{"x":1416,"y":1.73},{"x":1417,"y":1.86},{"x":1418,"y":1.58},{"x":1419,"y":1.80},{"x":1420,"y":1.89},{"x":1421,"y":1.77},{"x":1422,"y":1.62},{"x":1423,"y":1.85},{"x":1424,"y":1.74},{"x":1425,"y":2.08},
{"x":1426,"y":1.88},{"x":1427,"y":1.80},{"x":1428,"y":1.94},{"x":1429,"y":1.84},{"x":1430,"y":1.91},{"x":1431,"y":1.76},{"x":1432,"y":1.89},{"x":1433,"y":1.86},{"x":1434,"y":1.96},{"x":1435,"y":1.82},{"x":1436,"y":1.90},{"x":1437,"y":1.93},{"x":1438,"y":1.85},{"x":1439,"y":1.71},{"x":1440,"y":1.92},{"x":1441,"y":1.88},{"x":1442,"y":1.83},{"x":1443,"y":2.14},{"x":1444,"y":1.95},{"x":1445,"y":1.87},{"x":1446,"y":1.79},{"x":1447,"y":1.91},{"x":1448,"y":1.86},
{"x":1449,"y":1.89},{"x":1450,"y":1.84},{"x":1451,"y":1.93},{"x":1452,"y":1.87},{"x":1453,"y":1.81},{"x":1454,"y":1.90},{"x":1455,"y":1.85}
      ]},
      "mark": {"type": "point", "shape": "circle", "filled": false, "size": 200, "strokeWidth": 1.1, "opacity": 1},
      "encoding": {
        "stroke": {
          "datum": "Saída da RNA",
          "type": "nominal",
          "scale": {"domain": ["Saída da RNA", "Saída esperada"], "range": ["#ff0000", "#000000"]},
          "legend": {
            "title": null,
            "orient": "none",
            "legendX": 26,
            "legendY": 29,
            "fillColor": "#ffffff",
            "strokeColor": "#000000",
            "padding": 7,
            "rowPadding": 11,
            "clipHeight": 32,
            "labelFont": "Liberation Sans",
            "labelFontSize": 28,
            "labelColor": "#000000",
            "labelLimit": 400,
            "symbolType": "circle",
            "symbolSize": 200,
            "symbolStrokeWidth": 1.1,
            "symbolOffset": 18,
            "labelOffset": 20,
            "encoding": {
              "symbols": {
                "fill": {"value": {"expr": "datum.value === 'Saída esperada' ? '#000000' : 'transparent'"}},
                "stroke": {"value": {"expr": "datum.value === 'Saída esperada' ? 'transparent' : '#ff0000'"}},
                "size": {"value": {"expr": "datum.value === 'Saída esperada' ? 20 : 200"}}
              }
            }
          }
        }
      }
    },
    {
      "data": {"values": [
{"x":1,"y":1.095},{"x":5,"y":1.095},{"x":9,"y":1.095},{"x":13,"y":1.095},{"x":15,"y":1.095},
{"x":16,"y":1.125},{"x":20,"y":1.125},{"x":24,"y":1.125},{"x":28,"y":1.125},
{"x":29,"y":1.143},{"x":33,"y":1.143},{"x":37,"y":1.143},{"x":39,"y":1.143},
{"x":40,"y":1.168},{"x":44,"y":1.168},{"x":48,"y":1.168},{"x":50,"y":1.168},
{"x":51,"y":1.209},{"x":55,"y":1.209},{"x":59,"y":1.209},{"x":63,"y":1.209},{"x":67,"y":1.209},
{"x":69,"y":1.243},{"x":73,"y":1.243},{"x":77,"y":1.243},{"x":81,"y":1.243},{"x":85,"y":1.243},
{"x":86,"y":1.247},{"x":90,"y":1.247},{"x":94,"y":1.247},{"x":98,"y":1.247},{"x":100,"y":1.247},
{"x":101,"y":1.252},{"x":105,"y":1.252},{"x":109,"y":1.252},{"x":113,"y":1.252},{"x":117,"y":1.252},{"x":120,"y":1.252},
{"x":121,"y":1.269},{"x":125,"y":1.269},{"x":129,"y":1.269},{"x":133,"y":1.269},{"x":137,"y":1.269},{"x":141,"y":1.269},{"x":143,"y":1.269},
{"x":144,"y":1.293},{"x":147,"y":1.293},
{"x":148,"y":1.336},{"x":152,"y":1.336},{"x":156,"y":1.336},{"x":158,"y":1.336},
{"x":159,"y":1.35},{"x":163,"y":1.35},{"x":167,"y":1.35},{"x":171,"y":1.35},
{"x":173,"y":1.367},{"x":177,"y":1.367},{"x":181,"y":1.367},{"x":185,"y":1.367},
{"x":187,"y":1.38},{"x":191,"y":1.38},{"x":195,"y":1.38},{"x":199,"y":1.38},{"x":203,"y":1.38},{"x":207,"y":1.38},{"x":211,"y":1.38},{"x":215,"y":1.38},
{"x":216,"y":1.427},{"x":220,"y":1.427},{"x":224,"y":1.427},{"x":228,"y":1.427},{"x":232,"y":1.427},{"x":234,"y":1.427},
{"x":235,"y":1.454},{"x":239,"y":1.454},{"x":243,"y":1.454},{"x":247,"y":1.454},{"x":251,"y":1.454},{"x":255,"y":1.454},{"x":259,"y":1.454},{"x":263,"y":1.454},{"x":267,"y":1.454},{"x":270,"y":1.454},
{"x":271,"y":1.504},{"x":275,"y":1.504},{"x":279,"y":1.504},{"x":283,"y":1.504},
{"x":284,"y":1.546},
{"x":285,"y":1.571},{"x":289,"y":1.571},{"x":293,"y":1.571},{"x":297,"y":1.571},{"x":301,"y":1.571},
{"x":302,"y":1.584},{"x":306,"y":1.584},{"x":310,"y":1.584},{"x":314,"y":1.584},{"x":318,"y":1.584},{"x":322,"y":1.584},{"x":325,"y":1.584},
{"x":326,"y":1.602},{"x":330,"y":1.602},{"x":334,"y":1.602},{"x":337,"y":1.602},
{"x":338,"y":1.668},{"x":342,"y":1.668},{"x":345,"y":1.668},
{"x":346,"y":1.677},{"x":350,"y":1.677},{"x":354,"y":1.677},{"x":358,"y":1.677},{"x":362,"y":1.677},{"x":366,"y":1.677},{"x":370,"y":1.677},{"x":373,"y":1.677},
{"x":374,"y":1.717},{"x":378,"y":1.717},{"x":382,"y":1.717},{"x":386,"y":1.717},{"x":390,"y":1.717},{"x":394,"y":1.717},{"x":398,"y":1.717},{"x":402,"y":1.717},{"x":406,"y":1.717},
{"x":408,"y":1.753},{"x":412,"y":1.753},{"x":415,"y":1.753},
{"x":416,"y":1.796},{"x":420,"y":1.796},{"x":424,"y":1.796},{"x":428,"y":1.796},
{"x":429,"y":1.892},{"x":433,"y":1.892},{"x":437,"y":1.892},{"x":441,"y":1.892},{"x":445,"y":1.892},{"x":448,"y":1.892},
{"x":449,"y":1.003},{"x":452,"y":1.003},
{"x":453,"y":1.03},{"x":457,"y":1.03},{"x":461,"y":1.03},{"x":465,"y":1.03},{"x":469,"y":1.03},
{"x":471,"y":1.089},{"x":475,"y":1.089},{"x":479,"y":1.089},{"x":483,"y":1.089},{"x":487,"y":1.089},{"x":491,"y":1.089},{"x":494,"y":1.089},
{"x":495,"y":1.117},{"x":499,"y":1.117},{"x":503,"y":1.117},{"x":507,"y":1.117},{"x":511,"y":1.117},{"x":515,"y":1.117},
{"x":516,"y":1.14},{"x":520,"y":1.14},{"x":524,"y":1.14},{"x":528,"y":1.14},{"x":532,"y":1.14},{"x":536,"y":1.14},{"x":540,"y":1.14},{"x":544,"y":1.14},{"x":548,"y":1.14},{"x":550,"y":1.14},
{"x":551,"y":1.163},{"x":555,"y":1.163},{"x":559,"y":1.163},{"x":563,"y":1.163},{"x":567,"y":1.163},{"x":571,"y":1.163},{"x":575,"y":1.163},{"x":579,"y":1.163},
{"x":581,"y":1.186},{"x":585,"y":1.186},{"x":589,"y":1.186},{"x":593,"y":1.186},{"x":595,"y":1.186},
{"x":596,"y":1.199},{"x":600,"y":1.199},{"x":604,"y":1.199},{"x":608,"y":1.199},{"x":610,"y":1.199},
{"x":611,"y":1.21},{"x":615,"y":1.21},{"x":619,"y":1.21},{"x":623,"y":1.21},
{"x":625,"y":1.227},{"x":629,"y":1.227},{"x":633,"y":1.227},{"x":637,"y":1.227},{"x":640,"y":1.227},
{"x":641,"y":1.243},{"x":645,"y":1.243},{"x":649,"y":1.243},{"x":653,"y":1.243},{"x":657,"y":1.243},{"x":661,"y":1.243},{"x":665,"y":1.243},{"x":669,"y":1.243},{"x":673,"y":1.243},{"x":677,"y":1.243},{"x":680,"y":1.243},
{"x":681,"y":1.248},{"x":685,"y":1.248},{"x":689,"y":1.248},{"x":693,"y":1.248},{"x":697,"y":1.248},{"x":701,"y":1.248},{"x":705,"y":1.248},{"x":709,"y":1.248},{"x":713,"y":1.248},{"x":717,"y":1.248},{"x":720,"y":1.248},
{"x":721,"y":1.253},{"x":725,"y":1.253},{"x":729,"y":1.253},{"x":733,"y":1.253},{"x":737,"y":1.253},{"x":741,"y":1.253},{"x":745,"y":1.253},{"x":749,"y":1.253},{"x":753,"y":1.253},{"x":757,"y":1.253},{"x":760,"y":1.253},
{"x":761,"y":1.258},{"x":765,"y":1.258},{"x":769,"y":1.258},{"x":773,"y":1.258},{"x":777,"y":1.258},{"x":781,"y":1.258},{"x":785,"y":1.258},{"x":789,"y":1.258},
{"x":791,"y":1.266},{"x":795,"y":1.266},{"x":799,"y":1.266},{"x":803,"y":1.266},{"x":807,"y":1.266},{"x":811,"y":1.266},{"x":815,"y":1.266},{"x":819,"y":1.266},{"x":823,"y":1.266},{"x":827,"y":1.266},{"x":830,"y":1.266},
{"x":831,"y":1.272},{"x":835,"y":1.272},{"x":839,"y":1.272},{"x":843,"y":1.272},{"x":847,"y":1.272},{"x":851,"y":1.272},{"x":855,"y":1.272},{"x":859,"y":1.272},{"x":863,"y":1.272},{"x":866,"y":1.272},
{"x":867,"y":1.28},{"x":871,"y":1.28},{"x":875,"y":1.28},{"x":879,"y":1.28},{"x":883,"y":1.28},{"x":887,"y":1.28},{"x":891,"y":1.28},{"x":895,"y":1.28},{"x":899,"y":1.28},
{"x":901,"y":1.295},{"x":905,"y":1.295},{"x":909,"y":1.295},{"x":913,"y":1.295},{"x":917,"y":1.295},{"x":921,"y":1.295},
{"x":922,"y":1.31},{"x":926,"y":1.31},{"x":930,"y":1.31},{"x":934,"y":1.31},
{"x":936,"y":1.327},{"x":940,"y":1.327},{"x":944,"y":1.327},{"x":948,"y":1.327},{"x":952,"y":1.327},{"x":956,"y":1.327},{"x":960,"y":1.327},{"x":963,"y":1.327},
{"x":964,"y":1.338},{"x":968,"y":1.338},{"x":972,"y":1.338},{"x":975,"y":1.338},
{"x":976,"y":1.351},{"x":980,"y":1.351},{"x":984,"y":1.351},{"x":988,"y":1.351},{"x":992,"y":1.351},{"x":996,"y":1.351},{"x":1000,"y":1.351},{"x":1002,"y":1.351},
{"x":1003,"y":1.37},{"x":1007,"y":1.37},{"x":1011,"y":1.37},{"x":1015,"y":1.37},{"x":1019,"y":1.37},{"x":1023,"y":1.37},{"x":1027,"y":1.37},{"x":1031,"y":1.37},{"x":1035,"y":1.37},{"x":1039,"y":1.37},{"x":1043,"y":1.37},{"x":1047,"y":1.37},{"x":1050,"y":1.37},
{"x":1051,"y":1.383},{"x":1055,"y":1.383},{"x":1059,"y":1.383},{"x":1063,"y":1.383},{"x":1067,"y":1.383},{"x":1071,"y":1.383},{"x":1075,"y":1.383},{"x":1079,"y":1.383},
{"x":1081,"y":1.397},{"x":1085,"y":1.397},{"x":1089,"y":1.397},{"x":1093,"y":1.397},{"x":1097,"y":1.397},{"x":1101,"y":1.397},{"x":1105,"y":1.397},{"x":1109,"y":1.397},{"x":1113,"y":1.397},{"x":1115,"y":1.397},
{"x":1116,"y":1.427},{"x":1120,"y":1.427},
{"x":1122,"y":1.452},{"x":1126,"y":1.452},{"x":1130,"y":1.452},{"x":1134,"y":1.452},{"x":1138,"y":1.452},{"x":1142,"y":1.452},{"x":1146,"y":1.452},{"x":1150,"y":1.452},
{"x":1151,"y":1.458},{"x":1155,"y":1.458},{"x":1159,"y":1.458},{"x":1163,"y":1.458},{"x":1167,"y":1.458},{"x":1171,"y":1.458},{"x":1175,"y":1.458},{"x":1179,"y":1.458},{"x":1183,"y":1.458},
{"x":1184,"y":1.504},{"x":1188,"y":1.504},{"x":1192,"y":1.504},{"x":1196,"y":1.504},{"x":1200,"y":1.504},
{"x":1201,"y":1.545},{"x":1205,"y":1.545},{"x":1209,"y":1.545},
{"x":1211,"y":1.571},{"x":1215,"y":1.571},{"x":1219,"y":1.571},{"x":1223,"y":1.571},{"x":1227,"y":1.571},
{"x":1229,"y":1.584},{"x":1233,"y":1.584},{"x":1237,"y":1.584},{"x":1241,"y":1.584},{"x":1245,"y":1.584},{"x":1249,"y":1.584},{"x":1253,"y":1.584},{"x":1257,"y":1.584},{"x":1261,"y":1.584},{"x":1265,"y":1.584},{"x":1267,"y":1.584},
{"x":1268,"y":1.602},{"x":1272,"y":1.602},{"x":1276,"y":1.602},{"x":1280,"y":1.602},{"x":1284,"y":1.602},{"x":1288,"y":1.602},{"x":1292,"y":1.602},{"x":1296,"y":1.602},{"x":1299,"y":1.602},
{"x":1300,"y":1.647},{"x":1304,"y":1.647},{"x":1308,"y":1.647},{"x":1312,"y":1.647},{"x":1316,"y":1.647},{"x":1320,"y":1.647},{"x":1324,"y":1.647},{"x":1328,"y":1.647},{"x":1330,"y":1.647},
{"x":1331,"y":1.667},{"x":1335,"y":1.667},{"x":1339,"y":1.667},{"x":1343,"y":1.667},{"x":1347,"y":1.667},{"x":1349,"y":1.667},
{"x":1350,"y":1.677},{"x":1354,"y":1.677},{"x":1358,"y":1.677},{"x":1362,"y":1.677},{"x":1366,"y":1.677},
{"x":1367,"y":1.717},{"x":1371,"y":1.717},{"x":1375,"y":1.717},{"x":1379,"y":1.717},{"x":1383,"y":1.717},{"x":1387,"y":1.717},{"x":1391,"y":1.717},{"x":1395,"y":1.717},{"x":1397,"y":1.717},
{"x":1398,"y":1.753},{"x":1402,"y":1.753},{"x":1406,"y":1.753},
{"x":1407,"y":1.796},{"x":1411,"y":1.796},{"x":1415,"y":1.796},{"x":1419,"y":1.796},{"x":1423,"y":1.796},{"x":1425,"y":1.796},
{"x":1426,"y":1.892},{"x":1430,"y":1.892},{"x":1434,"y":1.892},{"x":1438,"y":1.892},{"x":1442,"y":1.892},{"x":1446,"y":1.892},{"x":1448,"y":1.892}
      ]},
      "mark": {"type": "circle", "size": 26, "color": "#000000", "opacity": 1}
    }
  ]
}
